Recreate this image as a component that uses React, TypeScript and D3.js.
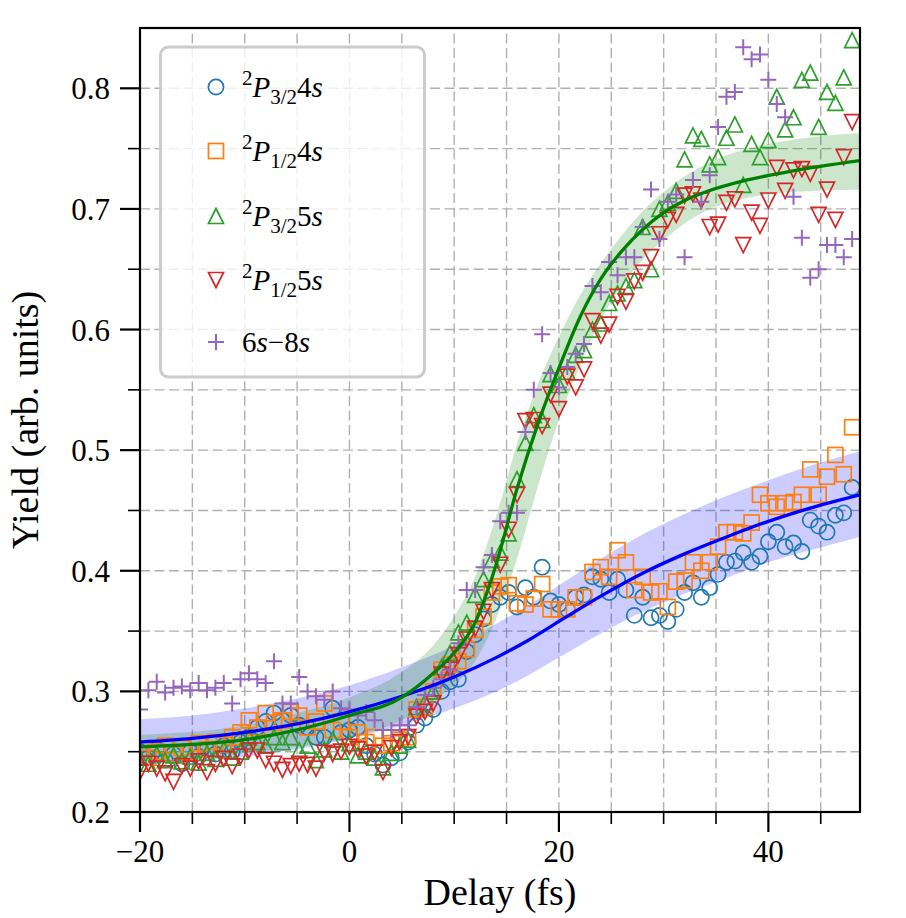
import React from "react";
import * as d3 from "d3";

const delay = [-20,-19.2,-18.4,-17.6,-16.8,-16,-15.2,-14.4,-13.6,-12.8,-12,-11.2,-10.4,-9.6,-8.8,-8,-7.2,-6.4,-5.6,-4.8,-4,-3.2,-2.4,-1.6,-0.8,0,0.8,1.6,2.4,3.2,4,4.8,5.6,6.4,7.2,8,8.8,9.6,10.4,11.2,12,12.8,13.6,14.4,15.2,16,16.8,17.6,18.4,19.2,20,20.8,21.6,22.4,23.2,24,24.8,25.6,26.4,27.2,28,28.8,29.6,30.4,31.2,32,32.8,33.6,34.4,35.2,36,36.8,37.6,38.4,39.2,40,40.8,41.6,42.4,43.2,44,44.8,45.6,46.4,47.2,48];

const p32_4s = [0.250,0.245,0.252,0.243,0.248,0.240,0.250,0.246,0.252,0.248,
0.255,0.250,0.258,0.262,0.270,0.275,0.282,0.276,0.280,0.272,
0.270,0.262,0.262,0.286,0.266,0.268,0.270,0.255,0.248,0.239,
0.245,0.249,0.258,0.272,0.278,0.285,0.300,0.308,0.310,0.333,
0.347,0.360,0.372,0.378,0.382,0.370,0.386,0.378,0.403,0.375,
0.372,0.368,0.378,0.380,0.395,0.393,0.382,0.393,0.384,0.363,
0.378,0.361,0.363,0.358,0.368,0.382,0.390,0.378,0.386,0.397,
0.407,0.408,0.415,0.407,0.412,0.424,0.432,0.420,0.423,0.416,
0.442,0.437,0.432,0.446,0.448,0.469];

const p12_4s = [0.252,0.245,0.250,0.255,0.248,0.253,0.250,0.257,0.252,0.258,
0.256,0.262,0.266,0.276,0.270,0.282,0.274,0.276,0.283,0.280,
0.270,0.275,0.290,0.268,0.275,0.262,0.266,0.258,0.262,0.255,
0.257,0.260,0.262,0.285,0.287,0.300,0.318,0.322,0.325,0.335,
0.351,0.362,0.382,0.387,0.388,0.373,0.372,0.377,0.389,0.368,
0.368,0.368,0.378,0.378,0.399,0.403,0.395,0.417,0.407,0.384,
0.395,0.382,0.383,0.370,0.391,0.392,0.407,0.400,0.407,0.420,
0.432,0.432,0.431,0.440,0.463,0.456,0.453,0.456,0.457,0.463,
0.484,0.463,0.478,0.496,0.480,0.519];

const p32_5s = [0.245,0.240,0.248,0.243,0.247,0.242,0.246,0.241,0.249,0.244,
0.252,0.245,0.250,0.262,0.258,0.255,0.262,0.258,0.262,0.251,
0.255,0.243,0.252,0.260,0.250,0.257,0.247,0.250,0.245,0.237,
0.249,0.255,0.260,0.287,0.291,0.300,0.320,0.332,0.349,0.357,
0.380,0.393,0.409,0.415,0.431,0.476,0.506,0.529,0.525,0.563,
0.554,0.565,0.579,0.583,0.600,0.605,0.622,0.630,0.636,0.641,
0.685,0.650,0.700,0.705,0.715,0.741,0.761,0.758,0.737,0.743,
0.759,0.770,0.720,0.754,0.743,0.757,0.793,0.766,0.776,0.807,
0.813,0.768,0.797,0.788,0.809,0.840];

const p12_5s = [0.233,0.240,0.236,0.232,0.225,0.238,0.236,0.242,0.233,0.240,
0.244,0.238,0.246,0.251,0.251,0.243,0.240,0.235,0.238,0.240,
0.239,0.236,0.249,0.248,0.250,0.254,0.252,0.246,0.249,0.233,
0.253,0.258,0.262,0.279,0.283,0.290,0.314,0.318,0.330,0.343,
0.352,0.366,0.384,0.405,0.434,0.463,0.524,0.525,0.520,0.546,
0.534,0.561,0.552,0.567,0.607,0.595,0.604,0.627,0.623,0.640,
0.647,0.660,0.679,0.691,0.695,0.711,0.712,0.707,0.685,0.687,
0.705,0.708,0.670,0.697,0.686,0.707,0.734,0.715,0.732,0.733,
0.729,0.695,0.716,0.691,0.743,0.772];

const s6to8 = [0.285,0.301,0.308,0.299,0.303,0.304,0.301,0.307,0.301,0.303,
0.307,0.290,0.310,0.315,0.310,0.307,0.325,0.290,0.290,0.312,
0.300,0.296,0.293,0.300,0.286,0.285,0.280,0.283,0.276,0.268,
0.268,0.272,0.272,0.287,0.297,0.303,0.310,0.318,0.340,0.384,
0.384,0.403,0.413,0.441,0.448,0.448,0.515,0.550,0.596,0.564,
0.552,0.569,0.580,0.588,0.636,0.631,0.656,0.645,0.660,0.660,
0.685,0.716,0.675,0.706,0.712,0.660,0.724,0.706,0.728,0.768,
0.793,0.797,0.834,0.824,0.828,0.807,0.787,0.776,0.710,0.676,
0.643,0.650,0.670,0.670,0.660,0.675];

// fit curves and confidence bands
const blueFitX = [-20,-15,-10,-5,0,5,10,14,17,20,24,28,32,36,40,44,48.75];
const blueFit = [0.258,0.261,0.266,0.273,0.283,0.296,0.312,0.328,0.342,0.358,0.379,0.398,0.414,0.428,0.441,0.452,0.463];
const blueUpper = [0.277,0.280,0.286,0.294,0.305,0.320,0.338,0.356,0.371,0.388,0.410,0.430,0.447,0.462,0.475,0.487,0.499];
const blueLower = [0.239,0.242,0.246,0.252,0.261,0.272,0.286,0.300,0.313,0.328,0.348,0.366,0.381,0.394,0.407,0.417,0.428];

const greenFitX = [-20,-10,-5,0,5,8,10,12,14,16,18,20,22,24,26,28,30,32,34,38,42,48.75];
const greenFit = [0.254,0.260,0.268,0.280,0.295,0.315,0.332,0.357,0.405,0.468,0.522,0.568,0.610,0.642,0.665,0.683,0.697,0.707,0.714,0.724,0.731,0.740];
const greenUpper = [0.264,0.272,0.282,0.295,0.316,0.338,0.362,0.395,0.445,0.505,0.555,0.594,0.628,0.655,0.678,0.698,0.714,0.727,0.737,0.750,0.757,0.763];
const greenLower = [0.244,0.249,0.254,0.262,0.276,0.292,0.305,0.325,0.360,0.410,0.470,0.525,0.570,0.608,0.636,0.658,0.674,0.688,0.698,0.709,0.714,0.716];

const xMajor = [-20, 0, 20, 40];
const xMinor = [-15, -10, -5, 5, 10, 15, 25, 30, 35, 45];
const yMajor = [0.2, 0.3, 0.4, 0.5, 0.6, 0.7, 0.8];
const yMinor = [0.25, 0.35, 0.45, 0.55, 0.65, 0.75];
const xTickLabels = ["\u221220", "0", "20", "40"];
const yTickLabels = ["0.2", "0.3", "0.4", "0.5", "0.6", "0.7", "0.8"];

const C_BLUE = "#1f77b4", C_ORANGE = "#ff7f0e", C_GREEN = "#2ca02c", C_RED = "#d62728", C_PURPLE = "#9467bd";
const FONT = "'Liberation Serif', 'DejaVu Serif', serif";
const FS_TICK = 31;
const FS_LABEL = 38;
const FS_LEG = 29;

const L = 140, R = 860, T = 28, B = 812;

function Marker({ kind, cx, cy, color }: { kind: string; cx: number; cy: number; color: string }) {
  const sw = 1.7;
  const h = 7.5;
  if (kind === "circle") return <circle cx={cx} cy={cy} r={7.6} fill="none" stroke={color} strokeWidth={sw} />;
  if (kind === "square") return <rect x={cx - 7.5} y={cy - 7.5} width={15} height={15} fill="none" stroke={color} strokeWidth={sw} />;
  if (kind === "up") return <path d={`M${cx},${cy - h}L${cx + h},${cy + h}L${cx - h},${cy + h}Z`} fill="none" stroke={color} strokeWidth={sw} />;
  if (kind === "down") return <path d={`M${cx},${cy + h}L${cx + h},${cy - h}L${cx - h},${cy - h}Z`} fill="none" stroke={color} strokeWidth={sw} />;
  return <path d={`M${cx - 8},${cy}H${cx + 8}M${cx},${cy - 8}V${cy + 8}`} fill="none" stroke={color} strokeWidth={sw + 0.3} />;
}

export default function App() {
  const x = d3.scaleLinear().domain([-20, 48.75]).range([L, R]);
  const y = d3.scaleLinear().domain([0.2, 0.85]).range([B, T]);

  const series = [
    { vals: p32_4s, kind: "circle", color: C_BLUE },
    { vals: p12_4s, kind: "square", color: C_ORANGE },
    { vals: p32_5s, kind: "up", color: C_GREEN },
    { vals: p12_5s, kind: "down", color: C_RED },
    { vals: s6to8, kind: "plus", color: C_PURPLE },
  ];

  const lineGen = (xs: number[], ys: number[]) =>
    d3.line<number>().x((_, i) => x(xs[i])).y((d) => y(d)).curve(d3.curveMonotoneX)(ys) || "";
  const areaGen = (xs: number[], lo: number[], hi: number[]) =>
    d3.area<number>().x((_, i) => x(xs[i])).y0((_, i) => y(lo[i])).y1((_, i) => y(hi[i])).curve(d3.curveMonotoneX)(xs) || "";

  const gridX = [...xMajor, ...xMinor];
  const gridY = [...yMajor, ...yMinor];

  const legendItems = [
    { kind: "circle", color: C_BLUE, sub: "3/2", n: "4" },
    { kind: "square", color: C_ORANGE, sub: "1/2", n: "4" },
    { kind: "up", color: C_GREEN, sub: "3/2", n: "5" },
    { kind: "down", color: C_RED, sub: "1/2", n: "5" },
  ];
  const rowY = [87, 151, 216, 280, 342];

  return (
    <svg width={906} height={918} style={{ position: "absolute", left: 0, top: 0, background: "#fff" }} fontFamily={FONT}>
      <defs>
        <clipPath id="plotclip">
          <rect x={L} y={T} width={R - L} height={B - T} />
        </clipPath>
      </defs>
      <rect x={0} y={0} width={906} height={918} fill="#fff" />
      {/* grid */}
      <g stroke="#b0b0b0" strokeWidth={1.4} strokeDasharray="10,4.5" fill="none">
        {gridX.map((v) => (
          <line key={"gx" + v} x1={x(v)} x2={x(v)} y1={B} y2={T} />
        ))}
        {gridY.map((v) => (
          <line key={"gy" + v} x1={L} x2={R} y1={y(v)} y2={y(v)} />
        ))}
      </g>
      <g clipPath="url(#plotclip)">
        <path d={areaGen(blueFitX, blueLower, blueUpper)} fill="blue" fillOpacity={0.2} />
        <path d={areaGen(greenFitX, greenLower, greenUpper)} fill="green" fillOpacity={0.2} />
        {series.map((s, si) => (
          <g key={"s" + si}>
            {s.vals.map((v, i) => (
              <Marker key={i} kind={s.kind} cx={x(delay[i])} cy={y(v)} color={s.color} />
            ))}
          </g>
        ))}
        <path d={lineGen(blueFitX, blueFit)} fill="none" stroke="#0000ff" strokeWidth={3.3} />
        <path d={lineGen(greenFitX, greenFit)} fill="none" stroke="#008000" strokeWidth={3.3} />
      </g>
      {/* spines */}
      <rect x={L} y={T} width={R - L} height={B - T} fill="none" stroke="#000" strokeWidth={2.2} />
      {/* ticks */}
      <g stroke="#000">
        {xMajor.map((v) => (
          <line key={"xM" + v} x1={x(v)} x2={x(v)} y1={B} y2={B + 20} strokeWidth={2.2} />
        ))}
        {xMinor.map((v) => (
          <line key={"xm" + v} x1={x(v)} x2={x(v)} y1={B} y2={B + 12} strokeWidth={1.6} />
        ))}
        {yMajor.map((v) => (
          <line key={"yM" + v} x1={L} x2={L - 20} y1={y(v)} y2={y(v)} strokeWidth={2.2} />
        ))}
        {yMinor.map((v) => (
          <line key={"ym" + v} x1={L} x2={L - 12} y1={y(v)} y2={y(v)} strokeWidth={1.6} />
        ))}
      </g>
      <g fill="#000">
        {xMajor.map((v, i) => (
          <text key={"xl" + v} x={x(v)} y={B + 50} textAnchor="middle" fontSize={FS_TICK}>{xTickLabels[i]}</text>
        ))}
        {yMajor.map((v, i) => (
          <text key={"yl" + v} x={L - 30} y={y(v) + 11} textAnchor="end" fontSize={FS_TICK}>{yTickLabels[i]}</text>
        ))}
        <text x={(L + R) / 2} y={905} textAnchor="middle" fontSize={FS_LABEL}>Delay (fs)</text>
        <text transform={`translate(38,${(T + B) / 2}) rotate(-90)`} textAnchor="middle" fontSize={FS_LABEL}>Yield (arb. units)</text>
      </g>
      {/* legend */}
      <g>
        <rect x={160.5} y={47} width={264} height={330} rx={8} fill="#fff" fillOpacity={0.8} stroke="#cccccc" strokeWidth={3} />
        {legendItems.map((it, i) => (
          <g key={"lg" + i}>
            <Marker kind={it.kind} cx={216} cy={rowY[i]} color={it.color} />
            <text x={242} y={rowY[i] + 10} fontSize={FS_LEG}>
              <tspan fontSize={21} dy={-12}>2</tspan>
              <tspan fontStyle="italic" dy={12}>P</tspan>
              <tspan fontSize={21} dy={7}>{it.sub}</tspan>
              <tspan dy={-7}>{it.n}</tspan>
              <tspan fontStyle="italic">s</tspan>
            </text>
          </g>
        ))}
        <Marker kind="plus" cx={216} cy={rowY[4]} color={C_PURPLE} />
        <text x={242} y={rowY[4] + 10} fontSize={FS_LEG}>
          <tspan>6</tspan>
          <tspan fontStyle="italic">s</tspan>
          <tspan>{"\u2212"}</tspan>
          <tspan>8</tspan>
          <tspan fontStyle="italic">s</tspan>
        </text>
      </g>
    </svg>
  );
}
